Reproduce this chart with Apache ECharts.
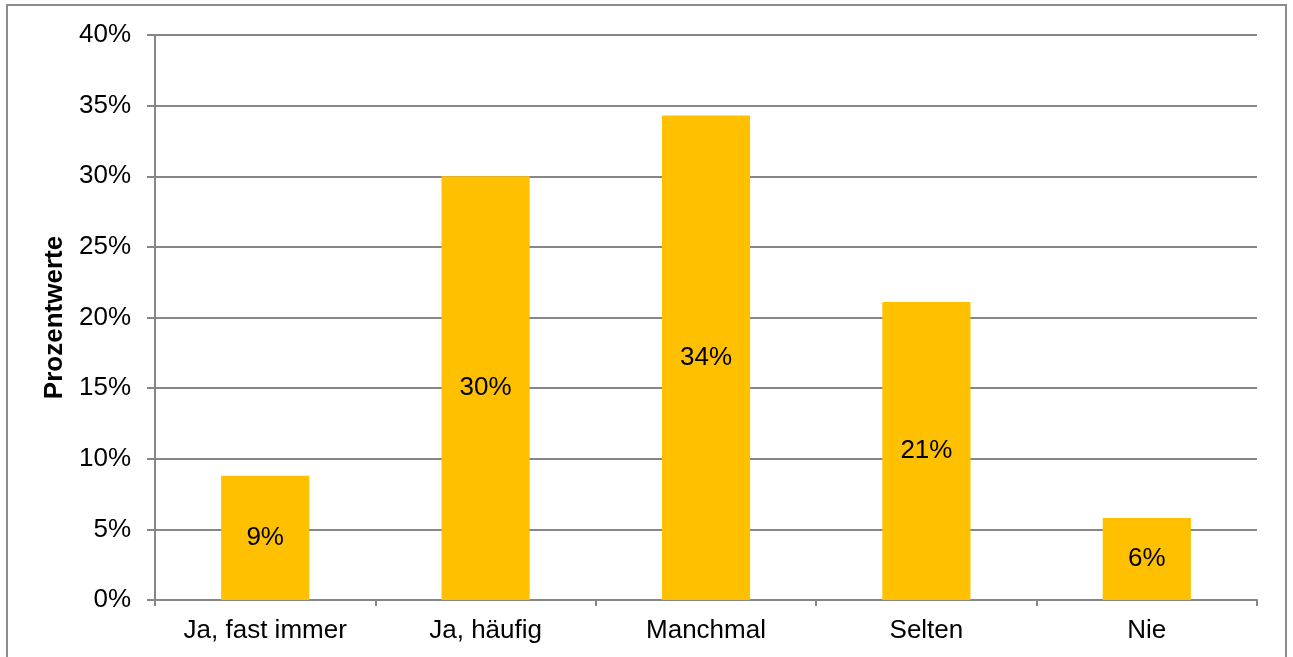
<!DOCTYPE html>
<html><head><meta charset="utf-8">
<script src="https://cdn.jsdelivr.net/npm/echarts@6/dist/echarts.min.js"></script>
<style>html,body{margin:0;padding:0;background:#fff}#c{width:1293px;height:657px}</style>
</head><body><div id="c"></div>
<script>
const categories = ['Ja, fast immer', 'Ja, häufig', 'Manchmal', 'Selten', 'Nie'];
const values = [8.8, 30.0, 34.3, 21.1, 5.8];
const labels = ['9%', '30%', '34%', '21%', '6%'];
const yTicks = [0, 5, 10, 15, 20, 25, 30, 35, 40];

const chart = echarts.init(document.getElementById('c'));
const font = 'Liberation Sans, Arial, sans-serif';
chart.setOption({
  animation: false,
  graphic: [{type: 'rect', shape: {x: 7, y: 5, width: 1279, height: 660}, style: {fill: 'none', stroke: '#8c8c8c', lineWidth: 2}}],
  grid: {left: 155, right: 36, top: 35, bottom: 57},
  xAxis: {
    type: 'category', data: categories,
    axisLine: {lineStyle: {color: '#868686', width: 2}},
    axisTick: {show: true, length: 6, alignWithLabel: false, lineStyle: {color: '#868686', width: 2}},
    axisLabel: {color: '#000', fontSize: 26, fontFamily: font, margin: 18}
  },
  yAxis: {
    type: 'value', min: 0, max: 40, interval: 5,
    name: 'Prozentwerte', nameLocation: 'middle', nameGap: 97, nameRotate: 90,
    nameTextStyle: {color: '#000', fontSize: 26, fontWeight: 'bold', fontFamily: font, verticalAlign: 'middle'},
    axisLine: {show: true, lineStyle: {color: '#868686', width: 2}},
    axisTick: {show: true, length: 8, lineStyle: {color: '#868686', width: 2}},
    axisLabel: {color: '#000', fontSize: 26, fontFamily: font, margin: 24, padding: [4, 0, 0, 0],
      formatter: v => yTicks.includes(v) ? v + '%' : ''},
    splitLine: {lineStyle: {color: '#868686', width: 2}}
  },
  series: [{
    type: 'bar', data: values, barWidth: '40%',
    itemStyle: {color: '#FFC000'},
    label: {show: true, position: 'inside', color: '#000', fontSize: 26, fontFamily: font, padding: [4, 0, 0, 0],
      formatter: p => labels[p.dataIndex]}
  }]
});
</script></body></html>
